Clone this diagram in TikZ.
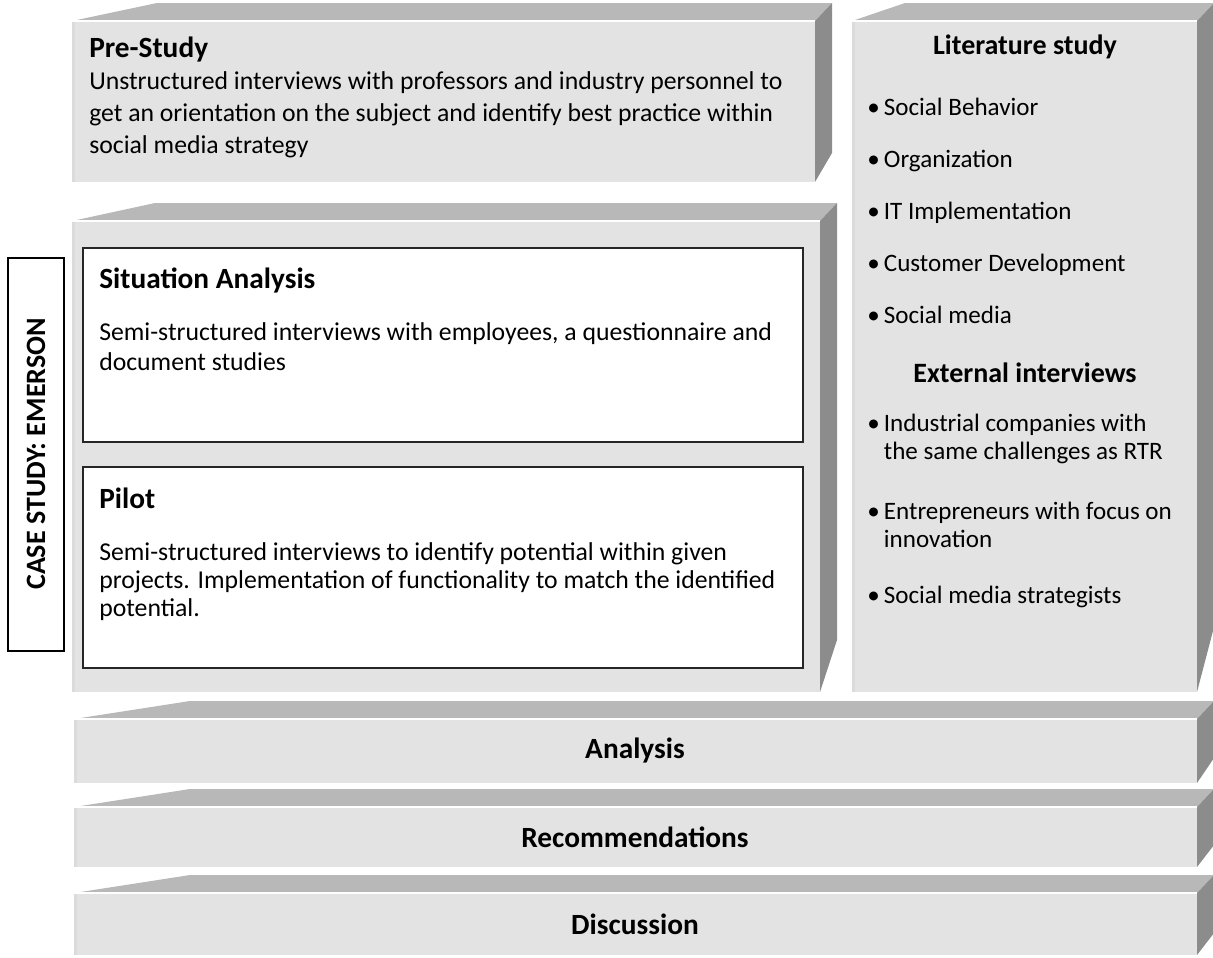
\documentclass[tikz,border=0pt]{standalone}
\usepackage{fontspec}
\setmainfont{Carlito}
\usetikzlibrary{positioning}

% one slab: front x0,y0 to x1,y1, end of the slanted top edge, foot of the right face
\newcommand{\slab}[6]{%
  \fill[boxtop] (#1,#2) -- (#5,#2-18) -- (#3+17,#2-18) -- (#3,#2) -- cycle;
  \fill[boxside] (#3,#2) -- (#3+17,#2-18) -- (#3+17,#6) -- (#3,#4) -- cycle;
  \fill[boxfront] (#1,#2) rectangle (#3,#4);
  \fill[black!14] (#1,#2) rectangle (#1+3,#4);
  \draw[white, line width=1.2pt] (#1,#2) -- (#3,#2);
}

\tikzset{
  boxfront/.style={fill=black!11},
  boxtop/.style={fill=black!28},
  boxside/.style={fill=black!45},
  heading/.style={font=\fontsize{22}{26}\selectfont\bfseries, inner sep=0pt},
  bodytext/.style={font=\fontsize{19.3}{24}\selectfont, align=left, inner sep=0pt, anchor=base west},
  listitem/.style={font=\fontsize{18.8}{21}\selectfont, align=left, inner sep=0pt, anchor=base west},
  panel/.style={draw=black!85, line width=1.2pt, fill=white},
}

\begin{document}
\begin{tikzpicture}[x=0.75pt, y=-0.75pt]
    \useasboundingbox (0,0) rectangle (1213,957);

    % Slabs
    \slab{72}{21}{815}{182}{157}{153}
    \slab{852}{21}{1197}{692}{905}{627}
    \slab{72}{221}{820}{692}{155}{640}
    \slab{74}{719}{1197}{783}{190}{758}
    \slab{74}{807}{1197}{867}{190}{845}
    \slab{74}{893}{1197}{955}{190}{933}

    % Pre-study (base of a multi-line node = its last line)
    \node[heading, anchor=base west] (pre) at (89,57) {Pre-Study};
    \node[bodytext] (pretext) at (89,153) {Unstructured interviews with professors and industry personnel to\\
        get an orientation on the subject and identify best practice within\\
        social media strategy};

    % Case study
    \draw[black, line width=1pt] (8,258) rectangle (64,651);
    \node[heading, font=\fontsize{21}{24}\selectfont\bfseries, rotate=90] (case) at (36,454) {CASE STUDY: EMERSON};

    \draw[panel] (83,248) rectangle (803,442);
    \node[heading, anchor=base west] (situation) at (99,288) {Situation Analysis};
    \node[bodytext, font=\fontsize{19.3}{22.5}\selectfont] (sittext) at (99,370) {Semi-structured interviews with employees, a questionnaire and\\
        document studies};

    \draw[panel] (83,467) rectangle (803,668);
    \node[heading, anchor=base west] (pilot) at (99,508) {Pilot};
    \node[bodytext, font=\fontsize{19.3}{21}\selectfont] (pilottext) at (99,616) {Semi-structured interviews to identify potential within given\\
        projects. Implementation of functionality to match the identified\\
        potential.};

    % Literature and interviews
    \node[heading, font=\fontsize{21}{24}\selectfont\bfseries] (lit) at (1025,47) {Literature study};
    \foreach \i/\y/\txt in {1/115/Social Behavior, 2/167/Organization, 3/219/IT Implementation,
                            4/271/Customer Development, 5/323/Social media}
        \node[listitem] (lit\i) at (867,\y) {\textbullet\,\txt};

    \node[heading, font=\fontsize{21}{24}\selectfont\bfseries] (ext) at (1025,373) {External interviews};
    \node[listitem] (ext1) at (867,459) {\textbullet\,Industrial companies with\\
        \phantom{\textbullet\,}the same challenges as RTR};
    \node[listitem] (ext2) at (867,547) {\textbullet\,Entrepreneurs with focus on\\
        \phantom{\textbullet\,}innovation};
    \node[listitem] (ext3) at (867,603) {\textbullet\,Social media strategists};

    % Lower slabs
    \node[heading] (analysis) at (635,751) {Analysis};
    \node[heading] (recommend) at (635,837) {Recommendations};
    \node[heading] (discuss) at (635,924) {Discussion};
\end{tikzpicture}
\end{document}
